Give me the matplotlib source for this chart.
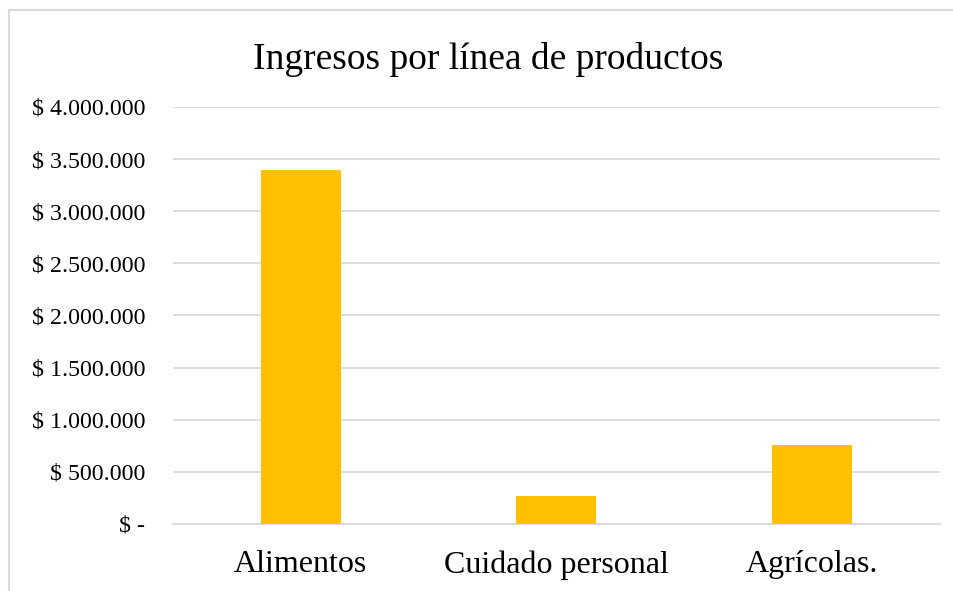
import matplotlib
matplotlib.use("Agg")
import matplotlib.pyplot as plt
from matplotlib.patches import Rectangle

categories = ["Alimentos", "Cuidado personal", "Agrícolas."]
ingresos = [3400000, 265000, 760000]
ytick_values = [0, 500000, 1000000, 1500000, 2000000, 2500000, 3000000, 3500000, 4000000]
ytick_labels = ["$ -", "$ 500.000", "$ 1.000.000", "$ 1.500.000", "$ 2.000.000",
                "$ 2.500.000", "$ 3.000.000", "$ 3.500.000", "$ 4.000.000"]

plt.rcParams["font.family"] = ["Liberation Serif", "DejaVu Serif"]

fig = plt.figure(figsize=(9.54, 5.91), dpi=100)
ax = fig.add_axes([0.1813, 0.1134, 0.8040, 0.7056])

x = range(len(categories))
ax.bar(x, ingresos, width=0.313, color="#FFC000", zorder=3)

ax.set_xlim(-0.5, len(categories) - 0.5)
ax.set_ylim(0, 4000000)
ax.set_yticks(ytick_values)
ax.set_yticklabels(ytick_labels, fontsize=17.2)
ax.set_xticks(list(x))
ax.set_xticklabels(categories, fontsize=23)

ax.grid(axis="y", color="#D9D9D9", linewidth=1.2, zorder=0)
ax.tick_params(axis="y", length=0, pad=20)
ax.tick_params(axis="x", length=0, pad=19)
for side in ["top", "right", "left"]:
    ax.spines[side].set_visible(False)
ax.spines["bottom"].set_color("#D9D9D9")
ax.spines["bottom"].set_linewidth(1.2)

fig.text(0.512, 0.9, "Ingresos por línea de productos", ha="center", va="center",
         fontsize=27)

# Outer chart frame
fig.patches.append(Rectangle((9 / 954, -0.05), 1.2, 1 - 10 / 591 + 0.05,
                             transform=fig.transFigure, fill=False,
                             edgecolor="#D9D9D9", linewidth=1.5))

fig.savefig("out.png", dpi=100)
